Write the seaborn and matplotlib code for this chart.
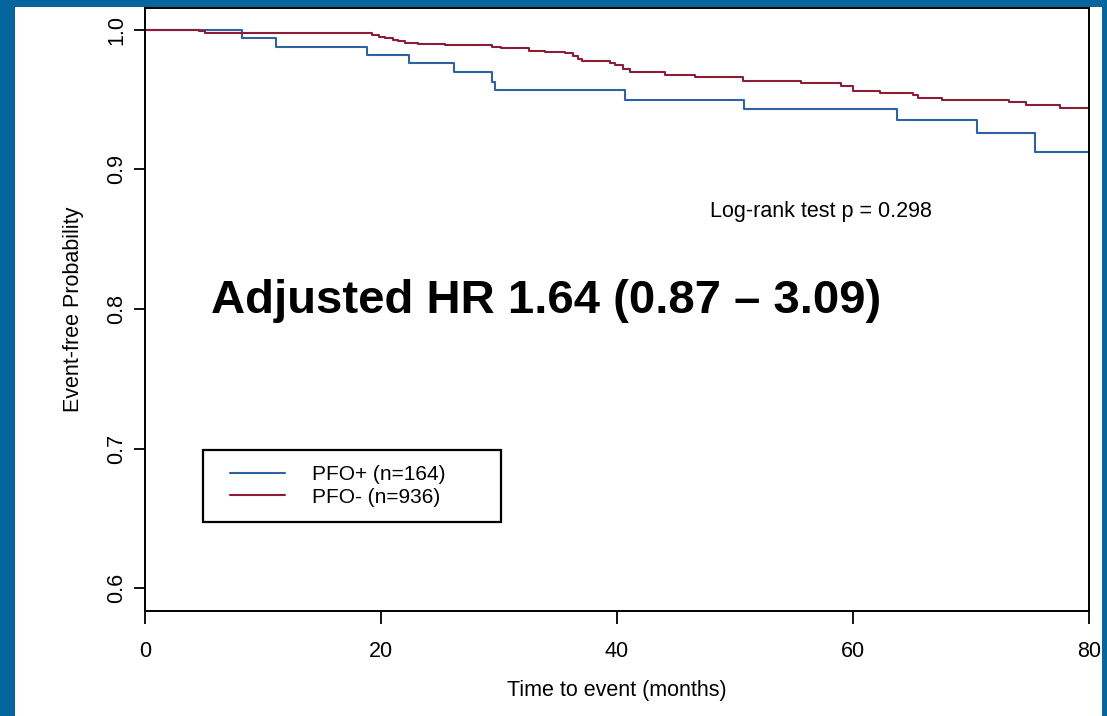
import numpy as np
import pandas as pd
import matplotlib
matplotlib.use("Agg")
import matplotlib.pyplot as plt
from matplotlib.patches import Rectangle
import seaborn as sns

# ---- data ----
pfo_pos_time = [0, 8.2, 11.1, 18.8, 22.4, 26.2, 29.4, 29.7, 40.7, 50.8, 63.7, 70.5, 75.4, 80]
pfo_pos_surv = [1.0, 0.9945, 0.988, 0.9817, 0.976, 0.970, 0.963, 0.9567, 0.950, 0.943, 0.9357, 0.926, 0.9126, 0.9126]

pfo_neg_time = [0, 4.6, 5.1, 15.7, 19.2, 19.8, 20.3, 21.0, 21.4, 22.0, 23.1, 25.4, 29.4, 30.2,
                32.5, 33.9, 35.6, 36.3, 36.7, 37.0, 39.4, 39.8, 40.5, 41.1, 44.1, 46.6, 50.7,
                55.6, 59.0, 60.0, 62.3, 65.1, 65.5, 67.5, 73.2, 74.7, 77.5, 80]
pfo_neg_surv = [1.0, 0.999, 0.998, 0.9974, 0.9962, 0.9952, 0.9940, 0.9927, 0.9917, 0.9909, 0.9898,
                0.9888, 0.9879, 0.9867, 0.9852, 0.9843, 0.9833, 0.9810, 0.9792, 0.9776, 0.9760,
                0.9750, 0.9722, 0.9695, 0.9674, 0.9660, 0.9633, 0.9620, 0.9595, 0.9564, 0.9548,
                0.9536, 0.9510, 0.9498, 0.9480, 0.9462, 0.9440, 0.9440]

group_labels = ["PFO+ (n=164)", "PFO- (n=936)"]
x_ticks = [0, 20, 40, 60, 80]
y_ticks = [0.6, 0.7, 0.8, 0.9, 1.0]
x_label = "Time to event (months)"
y_label = "Event-free Probability"
logrank_text = "Log-rank test p = 0.298"
hr_text = "Adjusted HR 1.64 (0.87 \u2013 3.09)"

# ---- style ----
sns.set_theme(style="white")
plt.rcParams["font.family"] = ["Liberation Sans", "DejaVu Sans"]
plt.rcParams["text.color"] = "black"
plt.rcParams["axes.labelcolor"] = "black"
plt.rcParams["xtick.color"] = "black"
plt.rcParams["ytick.color"] = "black"

W, H = 1107, 716
fig = plt.figure(figsize=(W / 100, H / 100), dpi=100)
border_col = "#05669e"
fig.patch.set_facecolor(border_col)
# white slide area (border left, top, right)
fig.patches.append(Rectangle((15 / W, 0), (1102 - 15) / W, (H - 7) / H,
                             transform=fig.transFigure, facecolor="white",
                             edgecolor="none", zorder=-10))

ax = fig.add_axes([145 / W, 1 - 610.7 / H, (1089 - 145) / W, (610.7 - 7.5) / H])
ax.set_facecolor("none")
ax.set_zorder(1)

blue = "#2f62a3"
red = "#8c1d36"

df = pd.concat([
    pd.DataFrame({"time": pfo_pos_time, "surv": pfo_pos_surv, "group": group_labels[0]}),
    pd.DataFrame({"time": pfo_neg_time, "surv": pfo_neg_surv, "group": group_labels[1]}),
])

sns.lineplot(data=df, x="time", y="surv", hue="group", palette=[blue, red],
             estimator=None, drawstyle="steps-post", linewidth=1.5, ax=ax, legend=False)

ax.set_xlim(0, 80)
ax.set_ylim(0.584, 1.016)
ax.set_xticks(x_ticks)
ax.set_xticklabels([str(t) for t in x_ticks], fontsize=15.5)
ax.set_yticks(y_ticks)
ax.set_yticklabels([f"{t:.1f}" for t in y_ticks], fontsize=15.5, rotation=90, va="center")
ax.tick_params(axis="y", direction="out", length=8, width=1.3, pad=5, color="black",
               labelcolor="black", left=True)
ax.tick_params(axis="x", direction="out", length=9, width=1.3, pad=12.5, color="black",
               labelcolor="black", bottom=True)
for s in ax.spines.values():
    s.set_color("black")
    s.set_linewidth(1.4)
ax.set_xlabel(x_label, fontsize=15.5, labelpad=13, color="black")
ax.set_ylabel(y_label, fontsize=15.5, labelpad=16, color="black")

ax.text(47.9, 0.8663, logrank_text, fontsize=15.5, ha="left", va="baseline", color="black")
ax.text(5.6, 0.7973, hr_text, fontsize=34, fontweight="bold", ha="left", va="baseline", color="black")

# legend
handles = [plt.Line2D([], [], color=blue, lw=1.5), plt.Line2D([], [], color=red, lw=1.5)]
leg = fig.legend(handles, group_labels, loc="upper left", bbox_to_anchor=(230 / W, 1 - 465 / H),
                 frameon=False, borderpad=0, borderaxespad=0, fontsize=15, handlelength=2.64,
                 handletextpad=1.3, labelspacing=0.17, labelcolor="black")
leg.set_zorder(6)
fig.patches.append(Rectangle((203 / W, 1 - 522 / H), (501 - 203) / W, (522 - 450) / H,
                             transform=fig.transFigure, facecolor="none",
                             edgecolor="black", linewidth=1.6, zorder=5))

fig.savefig("out.png", dpi=100, facecolor=fig.get_facecolor())
